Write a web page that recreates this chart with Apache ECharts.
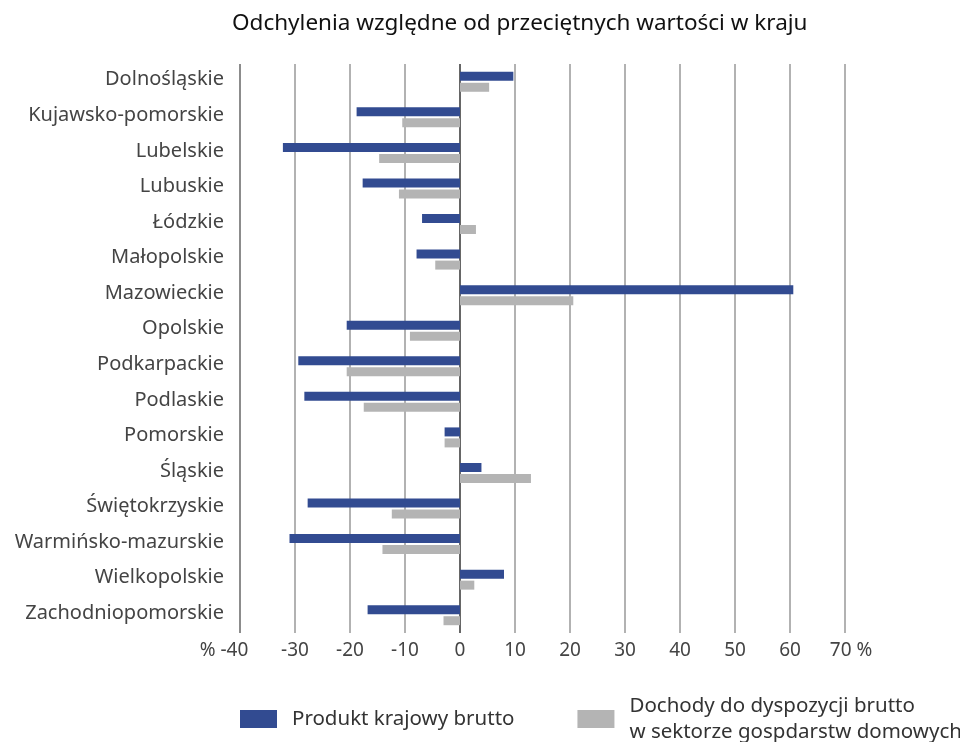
<!DOCTYPE html>
<html lang="pl">
<head>
    <meta charset="UTF-8">
    <title>Odchylenia względne</title>
    <script src="https://cdn.jsdelivr.net/npm/echarts@6/dist/echarts.min.js"></script>
    <style>
        html, body { margin: 0; padding: 0; background: #fff; }
        #chart { width: 960px; height: 742px; }
    </style>
</head>
<body>
    <div id="chart"></div>
    <script>
        // województwa, od góry
        var regions = ['Dolnośląskie', 'Kujawsko-pomorskie', 'Lubelskie', 'Lubuskie', 'Łódzkie',
            'Małopolskie', 'Mazowieckie', 'Opolskie', 'Podkarpackie', 'Podlaskie', 'Pomorskie',
            'Śląskie', 'Świętokrzyskie', 'Warmińsko-mazurskie', 'Wielkopolskie', 'Zachodniopomorskie'];

        // PKB - odchylenie w %
        var pkb = [9.7, -18.8, -32.2, -17.7, -6.9, -7.9, 60.6, -20.6, -29.4, -28.3, -2.8, 3.9, -27.7, -31.0, 8.0, -16.8];
        // dochody do dyspozycji brutto - odchylenie w %
        var dochody = [5.3, -10.5, -14.7, -11.1, 2.9, -4.5, 20.6, -9.1, -20.6, -17.5, -2.8, 12.9, -12.4, -14.1, 2.6, -3.0];

        var seriesNames = ['Produkt krajowy brutto', 'Dochody do dyspozycji brutto\nw sektorze gospdarstw domowych'];

        var chart = echarts.init(document.getElementById('chart'));
        var font = '"Noto Sans", sans-serif';

        chart.setOption({
            animation: false,
            textStyle: { fontFamily: font },
            title: {
                text: 'Odchylenia względne od przeciętnych wartości w kraju',
                left: 227,
                top: 7,
                textStyle: { fontFamily: font, fontSize: 22.5, fontWeight: 'normal', color: '#111' }
            },
            legend: {
                left: 240,
                top: 693,
                width: 760,
                padding: 0,
                itemWidth: 37,
                itemHeight: 18,
                itemGap: 63,
                icon: 'rect',
                textStyle: { fontSize: 20.5, color: '#333', padding: [0, 0, 0, 10], lineHeight: 26 },
                data: seriesNames
            },
            grid: { left: 240, right: 115, top: 64, bottom: 109 },
            xAxis: {
                type: 'value',
                min: -40,
                max: 70,
                interval: 10,
                axisLine: { show: false },
                axisTick: { show: false },
                axisLabel: {
                    fontSize: 19,
                    color: '#444',
                    margin: 8,
                    formatter: function (v) {
                        if (v === -40) return '% -40{s|}';
                        if (v === 70) return '{t|}70 %';
                        return String(v);
                    },
                    rich: { s: { width: 32 }, t: { width: 12 } }
                },
                splitLine: {
                    lineStyle: {
                        width: 1.5,
                        color: ['#666', '#999', '#999', '#999', '#333', '#999', '#999', '#999', '#999', '#999', '#999', '#999']
                    }
                }
            },
            yAxis: {
                type: 'category',
                inverse: true,
                data: regions,
                axisLine: { show: false },
                axisTick: { show: false },
                axisLabel: {
                    color: '#444',
                    margin: 16,
                    formatter: function (v) { return '{a|' + v + '}'; },
                    rich: { a: { fontSize: 20, color: '#444', padding: [0, 0, 4, 0] } }
                }
            },
            series: [
                {
                    name: seriesNames[0],
                    type: 'bar',
                    data: pkb,
                    barWidth: 9,
                    barGap: '22%',
                    itemStyle: { color: '#324b91' }
                },
                {
                    name: seriesNames[1],
                    type: 'bar',
                    data: dochody,
                    barWidth: 9,
                    itemStyle: { color: '#b4b4b4' }
                }
            ]
        });
    </script>
</body>
</html>
